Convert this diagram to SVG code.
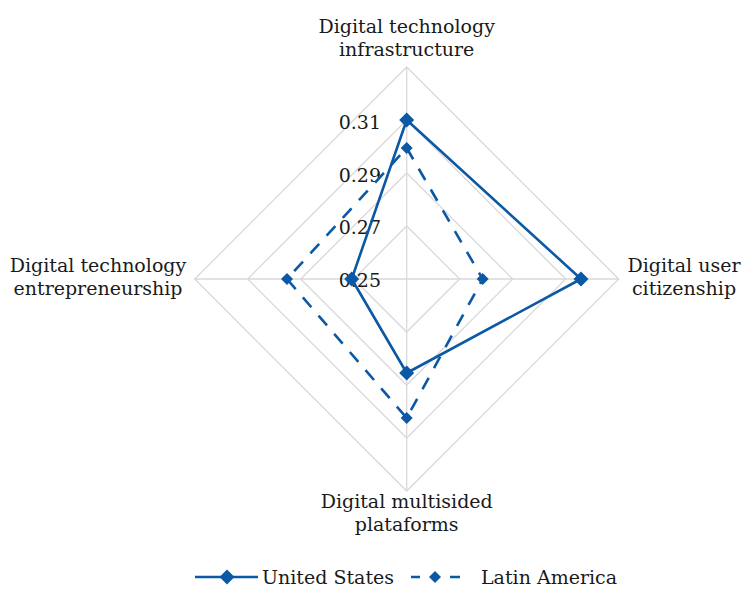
<svg xmlns="http://www.w3.org/2000/svg" width="742" height="589" viewBox="0 0 742 589">
<style>
.grid{fill:none;stroke:#d9d9d9;stroke-width:1.3}
.t{font-family:"DejaVu Serif","Liberation Serif",serif;font-size:19px;fill:#1a1a1a}
.tick{font-family:"DejaVu Serif","Liberation Serif",serif;font-size:19px;fill:#1a1a1a;text-anchor:end}
.us{fill:none;stroke:#0b58a5;stroke-width:2.6;stroke-linejoin:round}
.la{fill:none;stroke:#0b58a5;stroke-width:2.6;stroke-dasharray:13 11}
.m{fill:#0b58a5}
</style>
<defs>
<path id="dUS" d="M0,-7.5 L7.5,0 L0,7.5 L-7.5,0Z"/>
<path id="dLA" d="M0,-6 L6,0 L0,6 L-6,0Z"/>
</defs>
<g id="grid">
<path class="grid" d="M406.7,226 L459.7,279 L406.7,332 L353.7,279Z"/>
<path class="grid" d="M406.7,173 L512.7,279 L406.7,385 L300.7,279Z"/>
<path class="grid" d="M406.7,120 L565.7,279 L406.7,438 L247.7,279Z"/>
<path class="grid" d="M406.7,67 L618.7,279 L406.7,491 L194.7,279Z"/>
<path class="grid" d="M406.7,67 V491 M194.7,279 H618.7"/>
</g>
<g id="ticks">
<text class="tick" x="381" y="129">0.31</text>
<text class="tick" x="381" y="182">0.29</text>
<text class="tick" x="381" y="234">0.27</text>
<text class="tick" x="381" y="287">0.25</text>
</g>
<g id="connectors">
<path id="series-la" class="la" d="M406.7,148 L482.7,279 L406.7,418 L287,279Z"/>
<path id="series-us" class="us" d="M406.7,120 L581,279 L406.7,373 L351.7,279Z"/>
</g>
<g id="markers">
<use href="#dLA" class="m" x="406.7" y="148"/>
<use href="#dLA" class="m" x="482.7" y="279"/>
<use href="#dLA" class="m" x="406.7" y="418"/>
<use href="#dLA" class="m" x="287" y="279"/>
<use href="#dUS" class="m" x="406.7" y="120"/>
<use href="#dUS" class="m" x="581" y="279"/>
<use href="#dUS" class="m" x="406.7" y="373"/>
<use href="#dUS" class="m" x="351.7" y="279"/>
</g>
<g id="node-infrastructure">
<text class="t" x="406.7" y="33" text-anchor="middle">Digital technology</text>
<text class="t" x="406.7" y="56" text-anchor="middle">infrastructure</text>
</g>
<g id="node-citizenship">
<text class="t" x="684" y="272" text-anchor="middle">Digital user</text>
<text class="t" x="684" y="295" text-anchor="middle">citizenship</text>
</g>
<g id="node-platforms">
<text class="t" x="406.7" y="508" text-anchor="middle">Digital multisided</text>
<text class="t" x="406.7" y="531" text-anchor="middle">plataforms</text>
</g>
<g id="node-entrepreneurship">
<text class="t" x="98" y="272" text-anchor="middle">Digital technology</text>
<text class="t" x="98" y="295" text-anchor="middle">entrepreneurship</text>
</g>
<g id="legend">
<path class="us" d="M195,577 H258"/>
<use href="#dUS" class="m" x="227" y="577"/>
<text class="t" x="262" y="584">United States</text>
<path d="M411,577 H420 M450,577 H460" stroke="#0b58a5" stroke-width="2.6" fill="none"/>
<use href="#dLA" class="m" x="435" y="577"/>
<text class="t" x="481" y="584">Latin America</text>
</g>
</svg>
